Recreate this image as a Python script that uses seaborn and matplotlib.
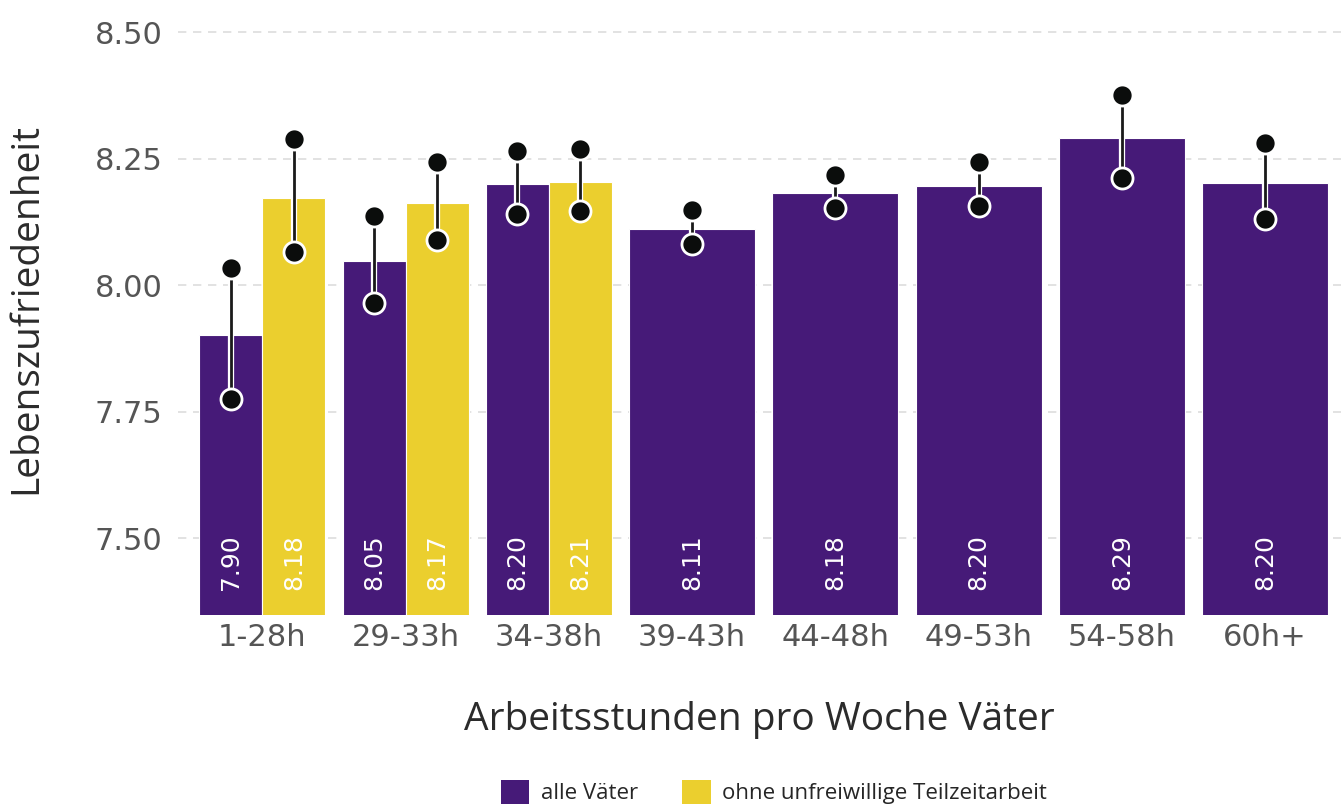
import pandas as pd
import matplotlib.pyplot as plt
import matplotlib.patheffects as pe
from matplotlib.patches import Patch
import seaborn as sns

# -----------------------------
# Data
# -----------------------------
categories = ["1-28h", "29-33h", "34-38h", "39-43h", "44-48h", "49-53h", "54-58h", "60h+"]
series_names = ["alle Väter", "ohne unfreiwillige Teilzeitarbeit"]

alle_values = [7.901, 8.047, 8.200, 8.111, 8.182, 8.196, 8.291, 8.202]
alle_labels = ["7.90", "8.05", "8.20", "8.11", "8.18", "8.20", "8.29", "8.20"]
alle_lower = [7.775, 7.964, 8.140, 8.081, 8.152, 8.156, 8.211, 8.130]
alle_upper = [8.034, 8.136, 8.265, 8.148, 8.217, 8.243, 8.375, 8.281]

ohne_categories = ["1-28h", "29-33h", "34-38h"]
ohne_values = [8.172, 8.162, 8.204]
ohne_labels = ["8.18", "8.17", "8.21"]
ohne_lower = [8.065, 8.089, 8.146]
ohne_upper = [8.289, 8.243, 8.269]

colors = {"alle Väter": "#461A78", "ohne unfreiwillige Teilzeitarbeit": "#EBCF2E"}

df = pd.concat([
    pd.DataFrame({"cat": categories, "group": series_names[0], "val": alle_values,
                  "label": alle_labels, "lo": alle_lower, "hi": alle_upper}),
    pd.DataFrame({"cat": ohne_categories, "group": series_names[1], "val": ohne_values,
                  "label": ohne_labels, "lo": ohne_lower, "hi": ohne_upper}),
], ignore_index=True)

# categories with both series are dodged, the rest get the full slot
paired = df[df["cat"].isin(ohne_categories)]
single = df[~df["cat"].isin(ohne_categories)]

# -----------------------------
# Plot
# -----------------------------
sns.set_style("white")
plt.rcParams["font.family"] = ["DejaVu Sans"]

fig = plt.figure(figsize=(13.41, 8.08), dpi=100)
ax = fig.add_axes([0.1327, 0.2389, 0.8673, 0.759])

sns.barplot(data=single, x="cat", y="val", order=categories, color=colors[series_names[0]],
            width=0.88, edgecolor="white", linewidth=0.8, saturation=1, errorbar=None, ax=ax)
sns.barplot(data=paired, x="cat", y="val", hue="group", order=categories, hue_order=series_names,
            palette=colors, width=0.88, dodge=True, edgecolor="white", linewidth=0.8,
            saturation=1, errorbar=None, legend=False, ax=ax)

# error bars + value labels, placed at the bar centres seaborn produced
for bar in ax.patches:
    h = bar.get_height()
    cx = bar.get_x() + bar.get_width() / 2
    cat = categories[int(round(cx))]
    row = df[(df["cat"] == cat) & ((df["val"] - h).abs() < 1e-9)]
    if row.empty:
        continue
    row = row.iloc[0]
    ax.plot([cx, cx], [row["lo"], row["hi"]], color="#1a1a1a", lw=2, zorder=3,
            path_effects=[pe.Stroke(linewidth=4.5, foreground="white"), pe.Normal()])
    ax.scatter([cx, cx], [row["lo"], row["hi"]], s=230, color="#0b0d0c", edgecolor="white",
               linewidth=2, zorder=4)
    ax.text(cx, 7.452, row["label"], rotation=90, ha="center", va="center",
            color="white", fontsize=18, zorder=5)

ax.set_ylim(7.348, 8.56)
ax.set_xlim(-0.59, 7.53)
ax.set_yticks([7.50, 7.75, 8.00, 8.25, 8.50])
ax.set_yticklabels(["7.50", "7.75", "8.00", "8.25", "8.50"])
ax.yaxis.grid(True, color="#dddddd", linestyle=(0, (5, 4)), linewidth=1.2)
ax.set_axisbelow(True)
sns.despine(ax=ax, left=True, bottom=True)
ax.tick_params(axis="both", length=0, labelsize=22, labelcolor="#555555")
ax.tick_params(axis="y", pad=11)
ax.tick_params(axis="x", pad=6)

ax.set_xlabel("Arbeitsstunden pro Woche Väter", fontsize=28, color="#2b2b2b",
              labelpad=35, family="Open Sans")
ax.set_ylabel("Lebenszufriedenheit", fontsize=28, color="#2b2b2b", labelpad=36,
              family="Open Sans")

handles = [Patch(facecolor=colors[n], edgecolor="none") for n in series_names]
fig.legend(handles, series_names, loc="center", bbox_to_anchor=(0.577, 0.02), ncol=2,
           frameon=False, prop={"family": "Open Sans", "size": 16},
           handlelength=1.3, handleheight=1.3, handletextpad=0.5, columnspacing=2.0)

plt.savefig("out.png", dpi=100)
